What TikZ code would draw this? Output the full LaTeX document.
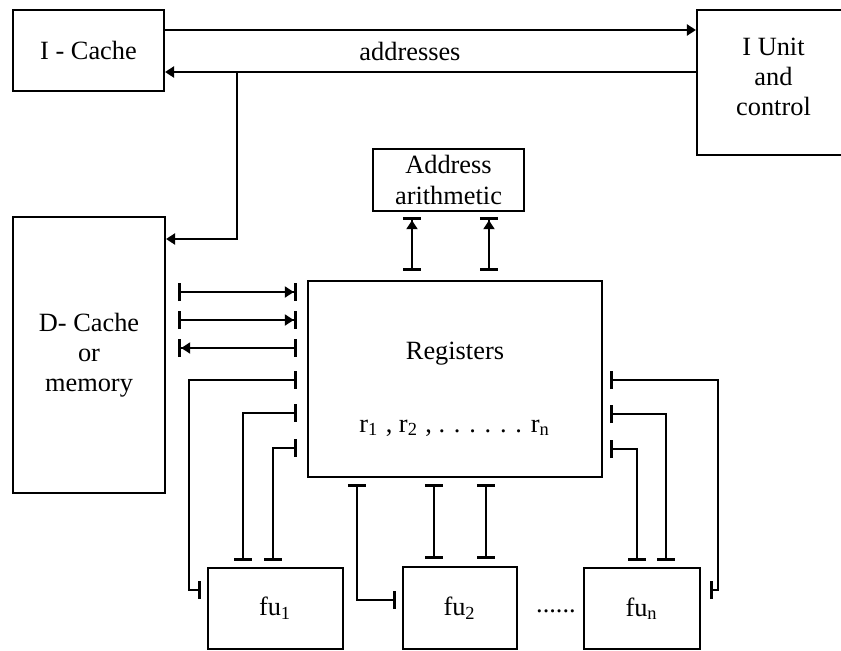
\documentclass[tikz,border=0pt]{standalone}
\usepackage{fontspec}
\setmainfont{Liberation Serif}
\usetikzlibrary{arrows.meta}

\tikzset{
  tri/.tip={Triangle[length=0.9mm,width=1.1mm]},
  bar/.tip={Bar[width=1.8mm,line width=0.9pt]},
  txt/.style={font=\fontsize{7.5}{8.6}\selectfont, align=center, inner sep=0pt},
  blk/.style={draw, line width=0.6pt, txt},
  wire/.style={line width=0.6pt},
}

\begin{document}
\begin{tikzpicture}[x=0.1mm,y=-0.1mm]
\useasboundingbox (0,0) rectangle (841,651);

% units
\node[blk, minimum width=15.1mm, minimum height=8.1mm] (icache) at (88.5,50.5) {I - Cache};
\node[blk, minimum width=15.3mm, minimum height=14.5mm] (iunit) at (773.5,82.5) {};
\node[txt] (iunittxt) at (773.5,77) {I Unit\\and\\control};
\node[blk, minimum width=15.1mm, minimum height=6.2mm] (addr) at (448.5,180) {Address\\arithmetic};
\node[blk, minimum width=15.2mm, minimum height=27.6mm] (dcache) at (89,355) {D- Cache\\or\\memory};
\node[blk, minimum width=29.4mm, minimum height=19.6mm] (regs) at (455,379) {};
\node[txt] (regname) at (455,354) {Registers};
\node[txt] (reglist) at (455,428) {r\textsubscript{1} , r\textsubscript{2} , . . . . . . r\textsubscript{n}};
\node[blk, minimum width=13.5mm, minimum height=8.1mm] (fu1) at (275.5,608.5) {fu\textsubscript{1}};
\node[blk, minimum width=11.4mm, minimum height=8.2mm] (fu2) at (460,608) {fu\textsubscript{2}};
\node[blk, minimum width=11.6mm, minimum height=8.1mm] (fun) at (642,608.5) {fu\textsubscript{n}};
\node[txt] (dots) at (556,611) {......};

% instruction side
\draw[wire,-tri] (icache.east |- 0,30) -- (iunit.west |- 0,30);
\node[txt] (lbl) at (410,51) {addresses};
\draw[wire,-tri] (iunit.west |- 0,72) -- (icache.east |- 0,72);
\coordinate (tap) at (237,72);
\draw[wire,-tri] (tap) |- (dcache.east |- 0,239);

% registers to address arithmetic
\foreach \x in {412,489}
  \draw[wire,bar-{tri[] bar[]},shorten <=0.9mm,shorten >=0.5mm] (regs.north -| \x,0) -- (addr.south -| \x,0);

% memory <-> registers
\foreach \y in {292,320}
  \draw[wire,bar-{tri[] bar[]},shorten <=1.2mm,shorten >=1mm] (dcache.east |- 0,\y) -- (regs.west |- 0,\y);
\draw[wire,{bar[] tri[]}-bar,shorten <=1.2mm,shorten >=1mm] (dcache.east |- 0,348) -- (regs.west |- 0,348);

% registers <-> fu1
\draw[wire,bar-bar,shorten <=1mm,shorten >=0.6mm] (regs.west |- 0,380) -| (189,590) -- (fu1.west |- 0,590);
\draw[wire,bar-bar,shorten <=1mm,shorten >=0.6mm] (regs.west |- 0,413) -| (fu1.north -| 243,0);
\draw[wire,bar-bar,shorten <=1mm,shorten >=0.6mm] (regs.west |- 0,448) -| (fu1.north -| 273,0);

% registers <-> fu2
\draw[wire,bar-bar,shorten <=0.6mm,shorten >=0.6mm] (regs.south -| 357,0) |- (fu2.west |- 0,600);
\foreach \x in {434,486}
  \draw[wire,bar-bar,shorten <=0.6mm,shorten >=0.7mm] (regs.south -| \x,0) -- (fu2.north -| \x,0);

% registers <-> fun
\draw[wire,bar-bar,shorten <=0.7mm,shorten >=0.9mm] (regs.east |- 0,380) -| (718,590) -- (fun.east |- 0,590);
\draw[wire,bar-bar,shorten <=0.7mm,shorten >=0.6mm] (regs.east |- 0,414) -| (fun.north -| 666,0);
\draw[wire,bar-bar,shorten <=0.7mm,shorten >=0.6mm] (regs.east |- 0,449) -| (fun.north -| 637,0);
\end{tikzpicture}
\end{document}
